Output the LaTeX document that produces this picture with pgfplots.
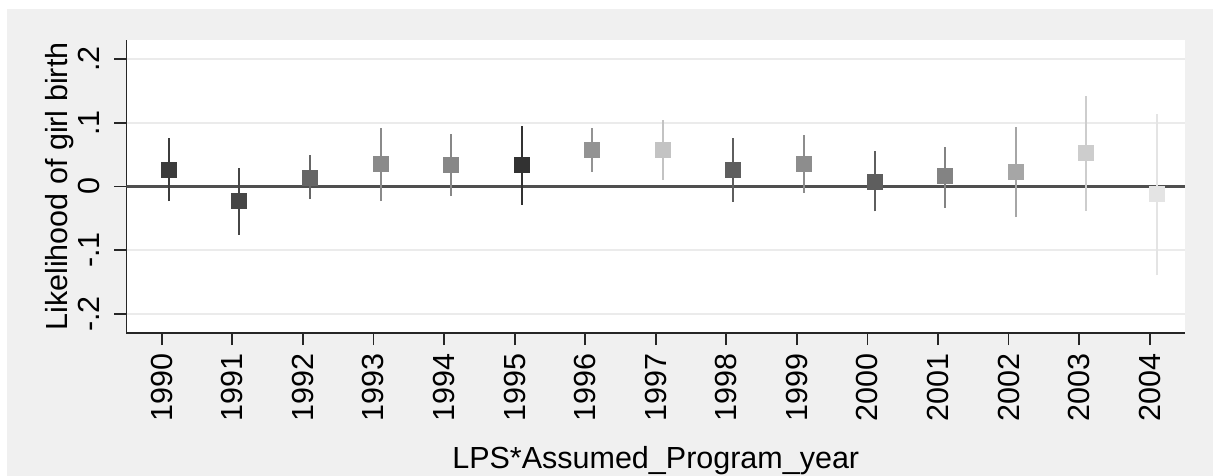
\documentclass[border=0pt]{standalone}
\usepackage{pgfplots}
\pgfplotsset{compat=1.18}
\usepackage{fontspec}
\setmainfont{Liberation Sans}
\definecolor{figgray}{HTML}{F0F0F0}
\definecolor{gridgray}{HTML}{EBEBEB}
\definecolor{zerocol}{HTML}{4F4F4F}
\definecolor{c0}{HTML}{3C3C3C}
\definecolor{c1}{HTML}{464646}
\definecolor{c2}{HTML}{666666}
\definecolor{c3}{HTML}{8A8A8A}
\definecolor{c4}{HTML}{878787}
\definecolor{c5}{HTML}{323232}
\definecolor{c6}{HTML}{939393}
\definecolor{c7}{HTML}{C3C3C3}
\definecolor{c8}{HTML}{5E5E5E}
\definecolor{c9}{HTML}{8D8D8D}
\definecolor{c10}{HTML}{5E5E5E}
\definecolor{c11}{HTML}{838383}
\definecolor{c12}{HTML}{A6A6A6}
\definecolor{c13}{HTML}{CDCDCD}
\definecolor{c14}{HTML}{E4E4E4}
\newcommand{\lblfont}{\fontsize{30.5bp}{36bp}\selectfont}
\pgfplotsset{
  ci/.style={line width=2bp, forget plot},
  pt/.style={only marks, mark=square*, mark size=7.5bp, mark options={line width=0pt, rounded corners=1.5bp}, forget plot},
}
\begin{document}
\begin{tikzpicture}
\fill[white] (-126.5bp,-143bp) rectangle (1086.5bp,333bp);
\fill[figgray] (-119.5bp,-143bp) rectangle (1086.5bp,324bp);
\begin{axis}[
  at={(0,0)}, anchor=south west, scale only axis,
  width=1058.5bp, height=293bp,
  xmin=-0.5, xmax=14.5, ymin=-0.23, ymax=0.23,
  axis lines=left, axis line style={-, line width=1.8bp, black!85},
  axis background/.style={fill=white},
  tick align=outside, major tick length=12bp,
  tick style={line width=1.8bp, black!85},
  xtick={0,1,2,3,4,5,6,7,8,9,10,11,12,13,14},
  xticklabels={1990,1991,1992,1993,1994,1995,1996,1997,1998,1999,2000,2001,2002,2003,2004},
  ytick={-0.2,-0.1,0,0.1,0.2},
  yticklabels={-.2,-.1,0,.1,.2},
  ymajorgrids, major grid style={line width=1.5bp, color=gridgray},
  x tick label style={rotate=90, anchor=east, inner sep=0pt, font=\lblfont},
  y tick label style={rotate=90, anchor=base, inner sep=0pt, font=\lblfont},
  xticklabel shift=8bp, yticklabel shift=14.5bp,
  xlabel={LPS*Assumed\_Program\_year},
  ylabel={Likelihood of girl birth},
  xlabel style={at={(axis description cs:0.5,-0.4608)}, anchor=base, inner sep=0pt, font=\lblfont},
  ylabel style={at={(axis description cs:-0.0562,0.5)}, anchor=base, inner sep=0pt, font=\lblfont},
]
\addplot[zerocol, line width=2.4bp, forget plot] coordinates {(-0.5,0) (14.5,0)};
% CI lines
\addplot[ci, c0]  coordinates {(0.1,-0.023) (0.1,0.076)};
\addplot[ci, c1]  coordinates {(1.1,-0.076) (1.1,0.029)};
\addplot[ci, c2]  coordinates {(2.1,-0.020) (2.1,0.050)};
\addplot[ci, c3]  coordinates {(3.1,-0.023) (3.1,0.092)};
\addplot[ci, c4]  coordinates {(4.1,-0.015) (4.1,0.083)};
\addplot[ci, c5]  coordinates {(5.1,-0.029) (5.1,0.095)};
\addplot[ci, c6]  coordinates {(6.1,0.023) (6.1,0.092)};
\addplot[ci, c7]  coordinates {(7.1,0.0105) (7.1,0.105)};
\addplot[ci, c8]  coordinates {(8.1,-0.024) (8.1,0.076)};
\addplot[ci, c9]  coordinates {(9.1,-0.010) (9.1,0.081)};
\addplot[ci, c10] coordinates {(10.1,-0.039) (10.1,0.055)};
\addplot[ci, c11] coordinates {(11.1,-0.033) (11.1,0.062)};
\addplot[ci, c12] coordinates {(12.1,-0.048) (12.1,0.093)};
\addplot[ci, c13] coordinates {(13.1,-0.038) (13.1,0.142)};
\addplot[ci, c14] coordinates {(14.1,-0.139) (14.1,0.114)};
% point estimates
\addplot[pt, c0]  coordinates {(0.1,0.026)};
\addplot[pt, c1]  coordinates {(1.1,-0.022)};
\addplot[pt, c2]  coordinates {(2.1,0.013)};
\addplot[pt, c3]  coordinates {(3.1,0.035)};
\addplot[pt, c4]  coordinates {(4.1,0.033)};
\addplot[pt, c5]  coordinates {(5.1,0.033)};
\addplot[pt, c6]  coordinates {(6.1,0.057)};
\addplot[pt, c7]  coordinates {(7.1,0.057)};
\addplot[pt, c8]  coordinates {(8.1,0.026)};
\addplot[pt, c9]  coordinates {(9.1,0.035)};
\addplot[pt, c10] coordinates {(10.1,0.007)};
\addplot[pt, c11] coordinates {(11.1,0.016)};
\addplot[pt, c12] coordinates {(12.1,0.023)};
\addplot[pt, c13] coordinates {(13.1,0.052)};
\addplot[pt, c14] coordinates {(14.1,-0.0125)};
\end{axis}
\end{tikzpicture}
\end{document}
